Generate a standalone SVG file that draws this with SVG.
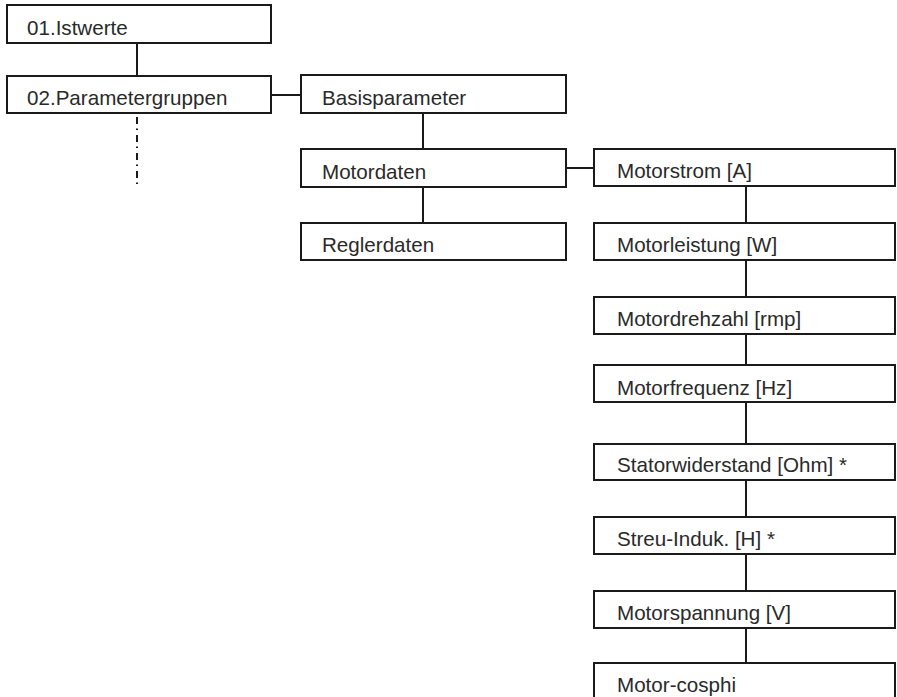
<svg xmlns="http://www.w3.org/2000/svg" width="897" height="697" viewBox="0 0 897 697">
<style>
.b{fill:#fff;stroke:#1a1a1a;stroke-width:2}
.t{font-family:"Liberation Sans",Arial,sans-serif;font-size:20.6px;fill:#2a2a2a}
.c line{stroke:#1a1a1a;stroke-width:2}
</style>
<rect width="897" height="697" fill="#fff"/>
<g class="c" id="connectors">
<line x1="137" y1="43" x2="137" y2="76"/>
<line x1="137" y1="117" x2="137" y2="186" stroke-dasharray="7 4.5 1.5 5"/>
<line x1="271" y1="95" x2="301" y2="95"/>
<line x1="423" y1="113" x2="423" y2="149"/>
<line x1="423" y1="187" x2="423" y2="223"/>
<line x1="566" y1="168" x2="594" y2="168"/>
<line x1="746" y1="186" x2="746" y2="223"/>
<line x1="746" y1="260" x2="746" y2="297"/>
<line x1="746" y1="334" x2="746" y2="365"/>
<line x1="746" y1="402" x2="746" y2="444"/>
<line x1="746" y1="480" x2="746" y2="517"/>
<line x1="746" y1="554" x2="746" y2="591"/>
<line x1="746" y1="628" x2="746" y2="663"/>
</g>
<g id="n1"><rect class="b" x="7" y="5" width="264" height="38"/><text class="t" x="27" y="35">01.Istwerte</text></g>
<g id="n2"><rect class="b" x="7" y="76" width="264" height="37"/><text class="t" x="27" y="105">02.Parametergruppen</text></g>
<g id="n3"><rect class="b" x="301" y="75" width="265" height="38"/><text class="t" x="322" y="105">Basisparameter</text></g>
<g id="n4"><rect class="b" x="301" y="149" width="265" height="38"/><text class="t" x="322" y="179">Motordaten</text></g>
<g id="n5"><rect class="b" x="301" y="223" width="265" height="37"/><text class="t" x="322" y="252">Reglerdaten</text></g>
<g id="n6"><rect class="b" x="594" y="149" width="301" height="37"/><text class="t" x="617" y="178">Motorstrom [A]</text></g>
<g id="n7"><rect class="b" x="594" y="223" width="301" height="37"/><text class="t" x="617" y="252">Motorleistung [W]</text></g>
<g id="n8"><rect class="b" x="594" y="297" width="301" height="37"/><text class="t" x="617" y="326">Motordrehzahl [rmp]</text></g>
<g id="n9"><rect class="b" x="594" y="365" width="301" height="37"/><text class="t" x="617" y="395">Motorfrequenz [Hz]</text></g>
<g id="n10"><rect class="b" x="594" y="444" width="301" height="36"/><text class="t" x="617" y="472">Statorwiderstand [Ohm] *</text></g>
<g id="n11"><rect class="b" x="594" y="517" width="301" height="37"/><text class="t" x="617" y="546">Streu-Induk. [H] *</text></g>
<g id="n12"><rect class="b" x="594" y="591" width="301" height="37"/><text class="t" x="617" y="620">Motorspannung [V]</text></g>
<g id="n13"><rect class="b" x="594" y="663" width="301" height="40"/><text class="t" x="617" y="692">Motor-cosphi</text></g>
</svg>
